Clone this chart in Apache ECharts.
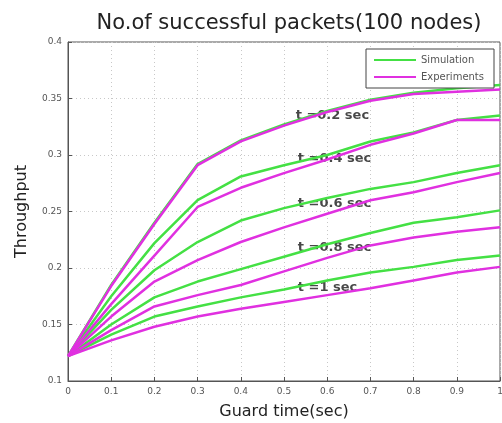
<!DOCTYPE html>
<html>
<head>
<meta charset="utf-8">
<script src="https://cdn.jsdelivr.net/npm/echarts@6/dist/echarts.min.js"></script>
<style>
  html, body { margin: 0; padding: 0; background: #fff; }
  #chart { width: 502px; height: 423px; }
</style>
</head>
<body>
<div id="chart"></div>
<script>
// guard time (sec)
const guardTime = [0, 0.1, 0.2, 0.3, 0.4, 0.5, 0.6, 0.7, 0.8, 0.9, 1.0]

// simulation curves, one per t
const sim02 = [0.122, 0.185, 0.240, 0.292, 0.313, 0.327, 0.339, 0.349, 0.355, 0.359, 0.362]
const sim04 = [0.122, 0.175, 0.222, 0.260, 0.281, 0.291, 0.300, 0.312, 0.320, 0.331, 0.335]
const sim06 = [0.122, 0.163, 0.198, 0.223, 0.242, 0.253, 0.262, 0.270, 0.276, 0.284, 0.291]
const sim08 = [0.122, 0.150, 0.174, 0.188, 0.199, 0.210, 0.221, 0.231, 0.240, 0.245, 0.251]
const sim10 = [0.122, 0.141, 0.157, 0.166, 0.174, 0.181, 0.189, 0.196, 0.201, 0.207, 0.211]

// experiment curves
const exp02 = [0.122, 0.184, 0.239, 0.291, 0.312, 0.326, 0.338, 0.348, 0.354, 0.356, 0.358]
const exp04 = [0.122, 0.168, 0.211, 0.254, 0.271, 0.284, 0.296, 0.309, 0.319, 0.331, 0.331]
const exp06 = [0.122, 0.157, 0.188, 0.207, 0.223, 0.236, 0.248, 0.260, 0.267, 0.276, 0.284]
const exp08 = [0.122, 0.145, 0.166, 0.176, 0.185, 0.197, 0.209, 0.220, 0.227, 0.232, 0.236]
const exp10 = [0.122, 0.136, 0.148, 0.157, 0.164, 0.170, 0.176, 0.182, 0.189, 0.196, 0.201]

// curve annotations [x, y, text]
const notes = [
  [0.527, 0.335, 't =0.2 sec'],
  [0.532, 0.297, 't =0.4 sec'],
  [0.532, 0.257, 't =0.6 sec'],
  [0.532, 0.218, 't =0.8 sec'],
  [0.532, 0.183, 't =1 sec']
]

const simList = [sim02, sim04, sim06, sim08, sim10]
const expList = [exp02, exp04, exp06, exp08, exp10]

const GREEN = '#44e044'
const MAGENTA = '#e030e0'
const FONT = 'DejaVu Sans'

function pairs(vals) {
  return guardTime.map((x, i) => [x, vals[i]])
}

function lineSeries(name, vals, color) {
  return {
    name: name,
    type: 'line',
    data: pairs(vals),
    symbol: 'none',
    silent: true,
    lineStyle: { color: color, width: 2.5 },
    itemStyle: { color: color }
  }
}

const series = []
simList.forEach(v => series.push(lineSeries('Simulation', v, GREEN)))
expList.forEach(v => series.push(lineSeries('Experiments', v, MAGENTA)))
series.push({
  type: 'scatter',
  symbolSize: 0,
  silent: true,
  data: notes.map(n => ({ value: [n[0], n[1]], name: n[2] })),
  label: {
    show: true,
    position: 'right',
    distance: 0,
    formatter: p => p.name,
    color: '#1a1a1a',
    fontSize: 13,
    fontWeight: 'bold',
    fontFamily: FONT
  }
})

const chart = echarts.init(document.getElementById('chart'))
chart.setOption({
  animation: false,
  backgroundColor: '#fff',
  textStyle: { fontFamily: FONT },
  title: {
    text: 'No.of successful packets(100 nodes)',
    left: 284,
    textAlign: 'center',
    top: 8,
    textStyle: { fontSize: 21, fontWeight: 'normal', color: '#222', fontFamily: FONT }
  },
  legend: {
    data: ['Simulation', 'Experiments'],
    orient: 'vertical',
    right: 8,
    top: 49,
    itemWidth: 42,
    itemHeight: 2,
    itemGap: 7,
    icon: 'rect',
    padding: [6, 10, 6, 8],
    borderColor: '#444',
    borderWidth: 1,
    backgroundColor: '#fff',
    textStyle: { fontSize: 10, color: '#555', fontFamily: FONT }
  },
  grid: {
    left: 68,
    right: 2,
    top: 42,
    bottom: 42,
    outerBoundsMode: 'none',
    show: true,
    borderColor: '#555',
    borderWidth: 1
  },
  xAxis: {
    type: 'value',
    min: 0,
    max: 1,
    interval: 0.1,
    name: 'Guard time(sec)',
    nameLocation: 'middle',
    nameGap: 23,
    nameTextStyle: { fontSize: 16, color: '#222', fontFamily: FONT },
    axisLine: { show: true, lineStyle: { color: '#555' } },
    axisTick: { show: true, inside: true, length: 4, lineStyle: { color: '#555' } },
    axisLabel: { fontSize: 9, color: '#555', margin: 6, formatter: v => String(+v.toFixed(1)) },
    splitLine: { show: true, lineStyle: { color: '#c8c8c8', type: [1, 3] } }
  },
  yAxis: {
    type: 'value',
    min: 0.1,
    max: 0.4,
    interval: 0.05,
    name: 'Throughput',
    nameLocation: 'middle',
    nameGap: 38,
    nameTextStyle: { fontSize: 16, color: '#222', fontFamily: FONT },
    axisLine: { show: true, lineStyle: { color: '#555' } },
    axisTick: { show: true, inside: true, length: 4, lineStyle: { color: '#555' } },
    axisLabel: { fontSize: 9, color: '#555', margin: 6, formatter: v => String(+v.toFixed(2)) },
    splitLine: { show: true, lineStyle: { color: '#c8c8c8', type: [1, 3] } }
  },
  series: series
})
</script>
</body>
</html>
